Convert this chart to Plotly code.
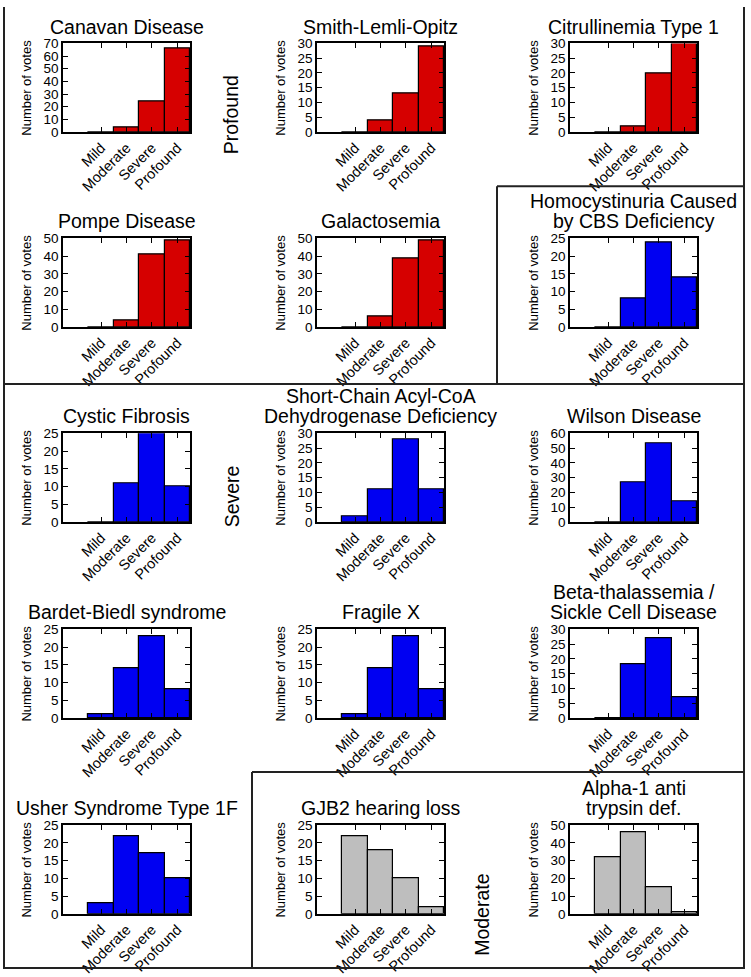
import plotly.graph_objects as go

W, H = 751, 977

categories = ["Mild", "Moderate", "Severe", "Profound"]
cat_pos = [1, 2, 3, 4]

# votes per category (Mild, Moderate, Severe, Profound)
canavan = [0, 4, 24, 66]
smith_lemli_opitz = [0, 4, 13, 29]
citrullinemia = [0, 2, 20, 30]
pompe = [0, 4, 41, 49]
galactosemia = [0, 6, 39, 49]
homocystinuria = [0, 8, 24, 14]
cystic_fibrosis = [0, 11, 25, 10]
scad = [2, 11, 28, 11]
wilson = [0, 27, 53, 14]
bardet_biedl = [1, 14, 23, 8]
fragile_x = [1, 14, 23, 8]
beta_thal = [0, 18, 27, 7]
usher = [3, 22, 17, 10]
gjb2 = [22, 18, 10, 2]
alpha1 = [32, 46, 15, 1]

titles = ["Canavan Disease", "Smith-Lemli-Opitz", "Citrullinemia Type 1",
          "Pompe Disease", "Galactosemia", "Homocystinuria Caused<br>by CBS Deficiency",
          "Cystic Fibrosis", "Short-Chain Acyl-CoA<br>Dehydrogenase Deficiency", "Wilson Disease",
          "Bardet-Biedl syndrome", "Fragile X", "Beta-thalassemia /<br>Sickle Cell Disease",
          "Usher Syndrome Type 1F", "GJB2 hearing loss", "Alpha-1 anti<br>trypsin def."]
series = [canavan, smith_lemli_opitz, citrullinemia, pompe, galactosemia, homocystinuria,
          cystic_fibrosis, scad, wilson, bardet_biedl, fragile_x, beta_thal,
          usher, gjb2, alpha1]
groups = ["Profound"] * 5 + ["Severe"] * 8 + ["Moderate"] * 2
y_max = [70, 30, 30, 50, 50, 25, 25, 30, 60, 25, 25, 30, 25, 25, 50]
y_step = [10, 5, 5, 10, 10, 5, 5, 5, 10, 5, 5, 5, 5, 5, 10]
group_labels = ["Profound", "Severe", "Moderate"]

colors = {"Profound": "#d60000", "Severe": "#0000f2", "Moderate": "#bebebe"}

col_left = [63, 317, 570]
plot_w = 127
row_top = [37, 235, 433, 632, 831]
plot_h = 90

FONT = "Liberation Sans, Arial, Helvetica, sans-serif"

def px_x(x):
    return x / W

def px_y(y):
    return 1 - y / H

fig = go.Figure()
annotations = []
layout = {}

for i in range(15):
    r, c = divmod(i, 3)
    n = i + 1
    xa = "x" if n == 1 else f"x{n}"
    ya = "y" if n == 1 else f"y{n}"
    x0 = col_left[c]
    x1 = x0 + plot_w
    y0 = row_top[r]
    y1 = y0 + plot_h
    fig.add_trace(go.Bar(
        x=cat_pos, y=series[i], width=1.0,
        marker=dict(color=colors[groups[i]], line=dict(color="black", width=1.2)),
        xaxis=xa, yaxis=ya, showlegend=False, hoverinfo="y"))
    axis_common = dict(showline=True, linecolor="black", linewidth=1.5, mirror="ticks",
                       ticks="inside", ticklen=5, tickwidth=1, tickcolor="black",
                       showgrid=False, zeroline=False, fixedrange=True)
    layout["xaxis" if n == 1 else f"xaxis{n}"] = dict(
        domain=[px_x(x0), px_x(x1)], anchor=ya, range=[-0.5, 4.5],
        tickmode="array", tickvals=cat_pos, ticktext=categories, tickangle=-45,
        tickfont=dict(family=FONT, size=14.5, color="black"), **axis_common)
    layout["yaxis" if n == 1 else f"yaxis{n}"] = dict(
        domain=[px_y(y1), px_y(y0)], anchor=xa, range=[0, y_max[i]],
        tickmode="linear", tick0=0, dtick=y_step[i],
        tickfont=dict(family=FONT, size=13.5, color="black"), **axis_common)
    # title lines
    lines = titles[i].split("<br>")
    nl = len(lines)
    for k, line in enumerate(lines):
        base = y0 - 5 - (nl - 1 - k) * 21
        annotations.append(dict(text=line, x=px_x((x0 + x1) / 2), y=px_y(base),
                                xref="paper", yref="paper", xanchor="center", yanchor="bottom",
                                borderpad=0, showarrow=False,
                                font=dict(family=FONT, size=19.5, color="black")))
    # y-axis title
    annotations.append(dict(text="Number of votes", x=px_x(x0 - 36), y=px_y((y0 + y1) / 2),
                            xref="paper", yref="paper", xanchor="center", yanchor="middle",
                            textangle=-90, showarrow=False, borderpad=0,
                            font=dict(family=FONT, size=13, color="black")))

# group side labels
side_pos = [(231, 110), (232, 497), (482, 922)]
for lab, (sx, sy) in zip(group_labels, side_pos):
    annotations.append(dict(text=lab, x=px_x(sx), y=px_y(sy), xref="paper", yref="paper",
                            xanchor="center", yanchor="middle", textangle=-90, showarrow=False,
                            font=dict(family=FONT, size=19.5, color="black")))

# group boxes
box_lines = [
    (4, 0, 4, 977), (744, 0, 744, 977),
    (4, 383, 744, 383),
    (497, 182, 744, 182), (497, 182, 497, 383),
    (252, 777, 744, 777), (252, 777, 252, 977),
    (4, 976, 744, 976),
]
shapes = [dict(type="line", xref="paper", yref="paper",
               x0=px_x(a), y0=px_y(b), x1=px_x(c), y1=px_y(d),
               line=dict(color="#222222", width=2)) for a, b, c, d in box_lines]

fig.update_layout(**layout)
fig.update_layout(width=W, height=H, margin=dict(l=0, r=0, t=0, b=0),
                  paper_bgcolor="white", plot_bgcolor="white", bargap=0,
                  annotations=annotations, shapes=shapes,
                  font=dict(family=FONT, color="black"))

fig.write_html("out.html", config={"displayModeBar": False},
               post_script="document.body.style.margin='0';document.body.style.overflow='hidden';")
